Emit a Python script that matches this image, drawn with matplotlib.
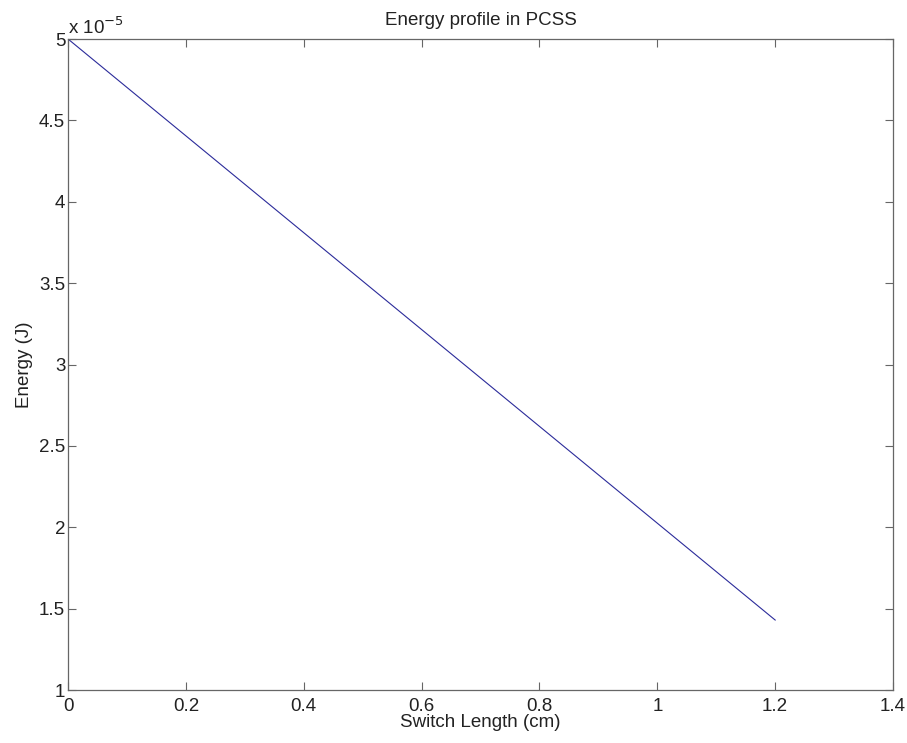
import matplotlib.pyplot as plt
from matplotlib.ticker import FuncFormatter

plt.rcParams['font.family'] = ['Liberation Sans', 'DejaVu Sans']

# switch length (cm) and energy left in the PCSS (J)
length_cm = [0.0, 0.2, 0.4, 0.6, 0.8, 1.0, 1.2]
energy_j = [5.0e-5, 4.405e-5, 3.81e-5, 3.215e-5, 2.62e-5, 2.025e-5, 1.43e-5]

x_ticks = [0, 0.2, 0.4, 0.6, 0.8, 1.0, 1.2, 1.4]
y_ticks = [1e-5, 1.5e-5, 2e-5, 2.5e-5, 3e-5, 3.5e-5, 4e-5, 4.5e-5, 5e-5]

fs = 13.5
fig = plt.figure(figsize=(9.07, 7.43), dpi=100)
ax = fig.add_axes([0.075, 0.0713, 0.9096, 0.8762])

ax.plot(length_cm, energy_j, color='#2b2b9a', lw=0.8)

ax.set_xlim(0, 1.4)
ax.set_ylim(1e-5, 5e-5)
ax.set_xticks(x_ticks)
ax.set_yticks(y_ticks)
ax.xaxis.set_major_formatter(FuncFormatter(lambda v, p: f"{v:g}"))
ax.yaxis.set_major_formatter(FuncFormatter(lambda v, p: f"{v / 1e-5:g}"))

ax.tick_params(direction='in', length=6, width=0.8, top=True, right=True,
               labelsize=fs, colors='#222222', pad=2)
ax.tick_params(axis='x', pad=6)
for s in ax.spines.values():
    s.set_color('#666666')
    s.set_linewidth(0.9)
ax.tick_params(color='#666666')

ax.text(0.0, 1.002, r"x 10$^{-5}$", transform=ax.transAxes, fontsize=fs,
        ha='left', va='bottom', color='#222222')

ax.set_title("Energy profile in PCSS", fontsize=fs, pad=10, color='#222222')
ax.set_xlabel("Switch Length (cm)", fontsize=fs, labelpad=-1, color='#222222')
ax.set_ylabel("Energy (J)", fontsize=fs, labelpad=4, color='#222222')

fig.savefig("out.png", dpi=100, facecolor='white')
